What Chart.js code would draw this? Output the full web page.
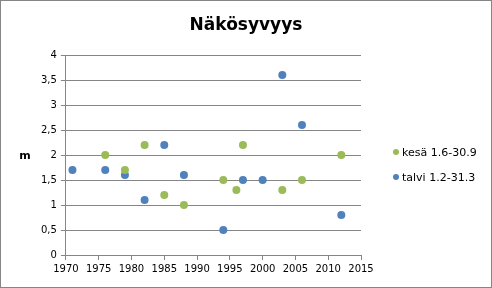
<!DOCTYPE html>
<html>
<head>
<meta charset="utf-8">
<script src="https://cdn.jsdelivr.net/npm/chart.js@4/dist/chart.umd.min.js"></script>
<style>
    html, body { margin: 0; padding: 0; background: #fff; }
    #wrap { width: 492px; height: 288px; box-sizing: border-box; border: 1px solid #868686; position: relative; }
    canvas { display: block; }
</style>
</head>
<body>
<div id="wrap"><canvas id="chart" width="490" height="286"></canvas></div>
<script>
// kesä (summer) measurements
let summerYears = [1976, 1979, 1982, 1985, 1988, 1994, 1996, 1997, 2003, 2006, 2012];
let summerDepth = [2.0, 1.7, 2.2, 1.2, 1.0, 1.5, 1.3, 2.2, 1.3, 1.5, 2.0];

// talvi (winter) measurements
let winterYears = [1971, 1976, 1979, 1982, 1985, 1988, 1994, 1997, 2000, 2003, 2006, 2012];
let winterDepth = [1.7, 1.7, 1.6, 1.1, 2.2, 1.6, 0.5, 1.5, 1.5, 3.6, 2.6, 0.8];

let seriesLabels = ["kesä 1.6-30.9", "talvi 1.2-31.3"];
let chartTitle = "Näkösyvyys";
let yAxisLabel = "m";

const font = "'DejaVu Sans', Verdana, sans-serif";
const gridColor = "#868686";

function toPoints(xs, ys) {
    return xs.map((x, i) => ({ x: x, y: ys[i] }));
}

// title centred on the whole canvas, not only on the plot
const titlePlugin = {
    id: "canvasTitle",
    afterDraw(chart) {
        let ctx = chart.ctx;
        ctx.save();
        ctx.font = "bold 17px " + font;
        ctx.fillStyle = "#000";
        ctx.textAlign = "center";
        ctx.textBaseline = "middle";
        ctx.fillText(chartTitle, chart.width / 2, 25);
        ctx.restore();
    }
};

// y axis title is drawn upright, like the original
const yTitlePlugin = {
    id: "yTitle",
    afterDraw(chart) {
        let ctx = chart.ctx;
        let y = chart.scales.y;
        ctx.save();
        ctx.font = "bold 11px " + font;
        ctx.fillStyle = "#000";
        ctx.textAlign = "center";
        ctx.textBaseline = "middle";
        ctx.fillText(yAxisLabel, 24, y.getPixelForValue(2) + 1);
        ctx.restore();
    }
};

// legend to the right of the plot, items placed like in the original
const sideLegendPlugin = {
    id: "sideLegend",
    afterDraw(chart) {
        let ctx = chart.ctx;
        let area = chart.chartArea;
        ctx.save();
        ctx.font = "11px " + font;
        ctx.textBaseline = "middle";
        chart.data.datasets.forEach((ds, i) => {
            let cy = area.top + 97 + i * 25;
            let cx = area.right + 35;
            ctx.fillStyle = ds.backgroundColor;
            ctx.beginPath();
            ctx.arc(cx, cy, 3, 0, Math.PI * 2);
            ctx.fill();
            ctx.fillStyle = "#000";
            ctx.fillText(ds.label, cx + 6, cy + 1);
        });
        ctx.restore();
    }
};

new Chart(document.getElementById("chart").getContext("2d"), {
    type: "scatter",
    data: {
        datasets: [{
            label: seriesLabels[0],
            data: toPoints(summerYears, summerDepth),
            backgroundColor: "#9BBB59",
            borderWidth: 0,
            pointRadius: 4,
            pointHoverRadius: 4
        }, {
            label: seriesLabels[1],
            data: toPoints(winterYears, winterDepth),
            backgroundColor: "#4F81BD",
            borderWidth: 0,
            pointRadius: 4,
            pointHoverRadius: 4
        }]
    },
    options: {
        responsive: false,
        animation: false,
        layout: { padding: { left: 36, right: 130, top: 54, bottom: 9 } },
        plugins: {
            title: { display: false },
            legend: { display: false },
            tooltip: { enabled: false }
        },
        scales: {
            x: {
                type: "linear",
                min: 1970,
                max: 2015,
                ticks: {
                    stepSize: 5,
                    color: "#000",
                    font: { family: font, size: 10 },
                    maxRotation: 0,
                    callback: (v) => String(v)
                },
                grid: { drawOnChartArea: false, drawTicks: true, tickLength: 5, color: gridColor },
                border: { color: gridColor }
            },
            y: {
                min: 0,
                max: 4,
                ticks: {
                    stepSize: 0.5,
                    color: "#000",
                    font: { family: font, size: 10 },
                    padding: 4,
                    callback: (v) => String(v).replace(".", ",")
                },
                grid: { color: gridColor, tickLength: 5 },
                border: { color: gridColor }
            }
        }
    },
    plugins: [titlePlugin, yTitlePlugin, sideLegendPlugin]
});
</script>
</body>
</html>
